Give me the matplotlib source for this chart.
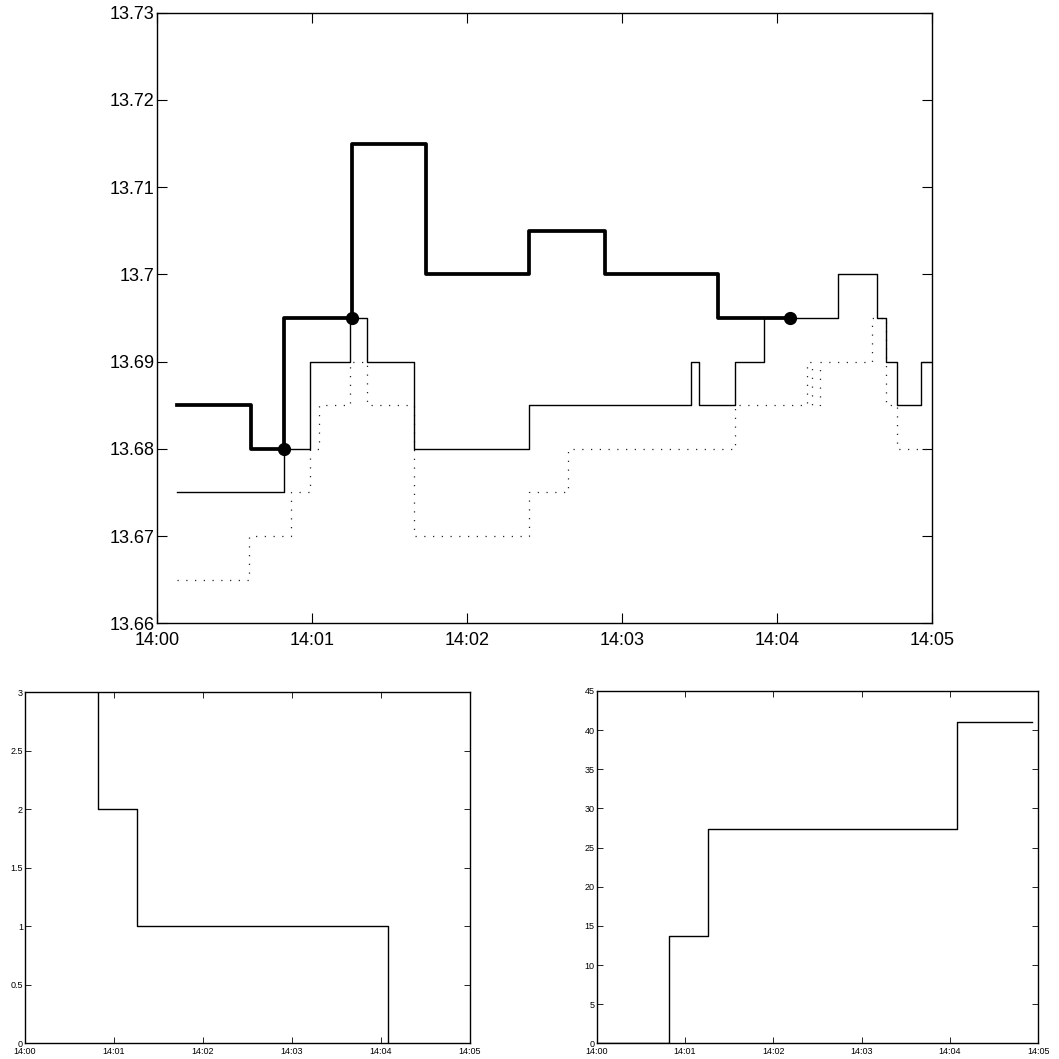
import matplotlib
matplotlib.use('Agg')
import matplotlib.pyplot as plt

plt.rcParams['font.family'] = ['Liberation Sans', 'DejaVu Sans']

# seconds after 14:00
tick_secs = [0, 60, 120, 180, 240, 300]
tick_labels = ['14:00', '14:01', '14:02', '14:03', '14:04', '14:05']

# thick line (trade price) with fill markers
thick_t = [7.5, 36.2, 49, 75.5, 104, 144, 173.4, 217.3, 245]
thick_v = [13.685, 13.68, 13.695, 13.715, 13.70, 13.705, 13.70, 13.695, 13.695]

# thin solid line
ask_t = [7.5, 49, 59.1, 74.6, 81.1, 99.5, 144, 206.6, 209.9, 223.9, 235.1,
         263.8, 278.9, 282.2, 286.4, 296, 300]
ask_v = [13.675, 13.68, 13.69, 13.695, 13.69, 13.68, 13.685, 13.69, 13.685,
         13.69, 13.695, 13.70, 13.695, 13.69, 13.685, 13.69, 13.69]

# dotted line
bid_t = [7.5, 35.5, 52, 59.1, 62.6, 74.6, 81.1, 99.5, 144, 159.2, 223.9,
         251.7, 253.5, 256.7, 276.7, 282.2, 286.4, 300]
bid_v = [13.665, 13.67, 13.675, 13.68, 13.685, 13.69, 13.685, 13.67, 13.675,
         13.68, 13.685, 13.69, 13.685, 13.69, 13.695, 13.685, 13.68, 13.68]

# fills
fill_t = [49, 75.5, 245]
fill_v = [13.68, 13.695, 13.695]

# remaining count
rem_t = [49, 75.5, 245]
rem_v = [2, 1, 0]

# cumulative cost
cum_t = [0, 49, 75.5, 245, 296]
cum_v = [0, 13.68, 27.375, 41.07, 41.07]

fig = plt.figure(figsize=(10.59, 10.59), dpi=100)

# top panel
ax = fig.add_axes([0.1485, 0.4114, 0.7313, 0.5766])
ax.step(bid_t, bid_v, where='post', color='0.15', lw=0.9, linestyle=(0, (1, 6)))
ax.step(ask_t, ask_v, where='post', color='black', lw=1.0)
ax.step(thick_t, thick_v, where='post', color='black', lw=2.7)
ax.plot(fill_t, fill_v, 'o', color='black', ms=8.5)
ax.set_xlim(0, 300)
ax.set_ylim(13.66, 13.73)
ax.set_xticks(tick_secs)
ax.set_xticklabels(tick_labels)
yt = [13.66, 13.67, 13.68, 13.69, 13.70, 13.71, 13.72, 13.73]
ax.set_yticks(yt)
ax.set_yticklabels(['%g' % v for v in yt])
ax.tick_params(direction='in', length=7, width=0.8, labelsize=13,
               top=True, right=True)
ax.tick_params(axis='x', pad=6)
ax.tick_params(axis='y', pad=2)

# bottom left: remaining
ax2 = fig.add_axes([0.0236, 0.0148, 0.4202, 0.3314])
ax2.step([rem_t[0]] + rem_t, [3] + rem_v, where='post', color='black', lw=1.0)
ax2.set_xlim(0, 300)
ax2.set_ylim(0, 3)
ax2.set_xticks(tick_secs)
ax2.set_xticklabels(tick_labels)
yt2 = [0, 0.5, 1, 1.5, 2, 2.5, 3]
ax2.set_yticks(yt2)
ax2.set_yticklabels(['%g' % v for v in yt2])

# bottom right: cumulative
ax3 = fig.add_axes([0.5635, 0.0148, 0.417, 0.3327])
ax3.step(cum_t, cum_v, where='post', color='black', lw=1.0)
ax3.set_xlim(0, 300)
ax3.set_ylim(0, 45)
ax3.set_xticks(tick_secs)
ax3.set_xticklabels(tick_labels)
ax3.set_yticks(range(0, 46, 5))

for a in (ax2, ax3):
    a.tick_params(direction='in', length=4, width=0.6, labelsize=6.5,
                  top=True, right=True)
    a.tick_params(axis='x', pad=3)
    a.tick_params(axis='y', pad=1.5)

for a in (ax, ax2, ax3):
    for s in a.spines.values():
        s.set_linewidth(1.0)

fig.savefig('out.png', dpi=100)
